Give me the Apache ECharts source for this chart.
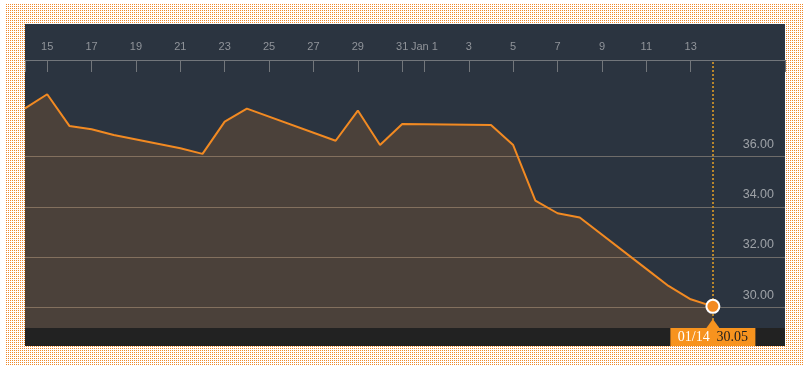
<!DOCTYPE html>
<html>
<head>
<meta charset="utf-8">
<script src="https://cdn.jsdelivr.net/npm/echarts@6/dist/echarts.min.js"></script>
<style>
  html, body { margin: 0; padding: 0; background: #ffffff; }
  #chart { width: 809px; height: 367px; }
</style>
</head>
<body>
<div id="chart"></div>
<script>
// ---- data ----
const dates = ['2015-12-14','2015-12-15','2015-12-16','2015-12-17','2015-12-18','2015-12-21','2015-12-22','2015-12-23','2015-12-24','2015-12-28','2015-12-29','2015-12-30','2015-12-31','2016-01-04','2016-01-05','2016-01-06','2016-01-07','2016-01-08','2016-01-11','2016-01-12','2016-01-13','2016-01-14'];
const prices = [37.92, 38.48, 37.22, 37.09, 36.86, 36.33, 36.11, 37.39, 37.91, 36.63, 37.83, 36.46, 37.30, 37.26, 36.46, 34.25, 33.75, 33.58, 31.54, 30.86, 30.33, 30.05];
const tickDates = ['2015-12-15','2015-12-17','2015-12-19','2015-12-21','2015-12-23','2015-12-25','2015-12-27','2015-12-29','2015-12-31','2016-01-01','2016-01-03','2016-01-05','2016-01-07','2016-01-09','2016-01-11','2016-01-13'];
const tickLabels = ['15','17','19','21','23','25','27','29','31','Jan 1','3','5','7','9','11','13'];
const yTicks = [30, 32, 34, 36];
const xStartDate = '2015-12-14';
const xSpanDays = 34.25;
const yMin = 29.19, yMax = 39.84;

// ---- helpers: x axis measured in days since xStartDate ----
const DAY = 86400000;
const ts = s => { const p = s.split('-').map(Number); return Date.UTC(p[0], p[1] - 1, p[2]); };
const dayOf = s => Math.round((ts(s) - ts(xStartDate)) / DAY);
const tickDays = tickDates.map(dayOf);
const labelMap = {};
tickDays.forEach((d, i) => { labelMap[d] = tickLabels[i]; });
const seriesData = dates.map((d, i) => [dayOf(d), prices[i]]);
const lastPt = seriesData[seriesData.length - 1];
const lastDate = dates[dates.length - 1].split('-');
const lastLabel = lastDate[1] + '/' + lastDate[2];

// dotted pattern
const pc = document.createElement('canvas');
pc.width = 2; pc.height = 2;
const pctx = pc.getContext('2d');
pctx.fillStyle = '#ffffff'; pctx.fillRect(0, 0, 2, 2);
pctx.fillStyle = '#ef8a2c'; pctx.fillRect(0, 0, 1, 1);

const ORANGE = '#f28a22';
const FONT = 'Helvetica, Arial, "Liberation Sans", sans-serif';

const chart = echarts.init(document.getElementById('chart'), null, { renderer: 'canvas' });
chart.setOption({
  animation: false,
  grid: { left: 25, right: 24, top: 60, bottom: 39, containLabel: false },
  xAxis: {
    type: 'value',
    position: 'top',
    min: 0, max: xSpanDays,
    axisLine: { show: true, lineStyle: { color: '#72767b', width: 1 } },
    axisTick: { show: true, inside: true, length: 12, lineStyle: { color: '#72767b', width: 1 },
                customValues: [0].concat(tickDays, [xSpanDays]) },
    axisLabel: { show: true, color: '#90949a', fontSize: 11, fontFamily: FONT, margin: 8,
                 customValues: tickDays,
                 formatter: v => labelMap[v] !== undefined ? labelMap[v] : '' },
    splitLine: { show: false }
  },
  yAxis: {
    type: 'value',
    position: 'right',
    min: yMin, max: yMax,
    axisLine: { show: false },
    axisTick: { show: false, customValues: yTicks },
    axisLabel: { inside: true, margin: 11, color: '#9ea2a7', fontSize: 12.5, fontFamily: FONT,
                 customValues: yTicks, verticalAlign: 'bottom', padding: [0, 0, 6, 0],
                 formatter: v => v.toFixed(2) },
    splitLine: { show: true, lineStyle: { color: '#6e6c6a', width: 1 } }
  },
  series: [
    {
      type: 'line',
      data: seriesData,
      showSymbol: false,
      symbol: 'none',
      lineStyle: { color: ORANGE, width: 2 },
      areaStyle: { color: ORANGE, opacity: 0.16, origin: 'start' },
      z: 3,
      markLine: {
        silent: true,
        symbol: ['none', 'none'],
        label: { show: false },
        lineStyle: { color: '#b8862c', type: [2, 2], width: 2 },
        data: [{ xAxis: lastPt[0] }]
      }
    },
    {
      type: 'scatter',
      data: [lastPt],
      symbol: 'circle',
      symbolSize: 13,
      itemStyle: { color: ORANGE, borderColor: '#ffffff', borderWidth: 2, opacity: 1 },
      z: 5
    }
  ]
});

const px = chart.convertToPixel({ gridIndex: 0 }, lastPt);
const boxW = 85, boxY = 328, boxH = 18;
chart.setOption({
  graphic: [
    { type: 'rect', silent: true, z: -20, shape: { x: 5, y: 4, width: 799, height: 361 },
      style: { fill: { image: pc, repeat: 'repeat' } } },
    { type: 'rect', silent: true, z: -10, shape: { x: 25, y: 24, width: 760, height: 322 },
      style: { fill: '#2b3440' } },
    { type: 'rect', silent: true, z: 50, shape: { x: 25, y: 328, width: 760, height: 18 },
      style: { fill: '#222222' } },
    { type: 'polygon', silent: true, z: 60,
      shape: { points: [[px[0] - 6.5, boxY], [px[0], boxY - 9], [px[0] + 6.5, boxY]] },
      style: { fill: '#f7931e' } },
    { type: 'rect', silent: true, z: 60, shape: { x: px[0] - boxW / 2, y: boxY, width: boxW, height: boxH },
      style: { fill: '#f7931e' } },
    { type: 'text', silent: true, z: 61, x: px[0], y: boxY + boxH / 2,
      style: {
        text: '{d|' + lastLabel + '}  {v|' + lastPt[1].toFixed(2) + '}',
        align: 'center', verticalAlign: 'middle',
        rich: {
          d: { fill: '#ffffff', fontSize: 14, fontFamily: '"Liberation Serif", "DejaVu Serif", serif' },
          v: { fill: '#1e1e1e', fontSize: 14, fontFamily: '"Liberation Serif", "DejaVu Serif", serif' }
        }
      } }
  ]
});
</script>
</body>
</html>
